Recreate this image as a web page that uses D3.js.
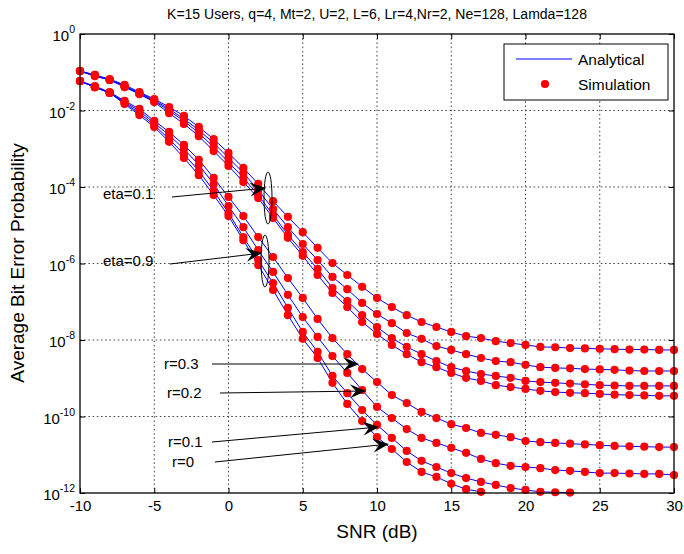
<!DOCTYPE html>
<html>
<head>
<meta charset="utf-8">
<script src="https://cdn.jsdelivr.net/npm/d3@7"></script>
<style>
  body { margin: 0; background: #fff; }
  svg { display: block; font-family: "Liberation Sans", Arial, Helvetica, sans-serif; }
</style>
</head>
<body>
<svg id="chart" width="684" height="554"></svg>
<script>
// SNR axis, one simulation point per dB
var snr = d3.range(-10, 31);

// log10(BER), SNR = -10 .. 30
// eta = 0.1 group
var eta01_r03 = [-0.97,-1.07,-1.18,-1.33,-1.52,-1.70,-1.91,-2.14,-2.43,-2.75,-3.11,-3.50,-3.92,-4.37,-4.78,-5.18,-5.59,-5.99,-6.30,-6.61,-6.90,-7.14,-7.35,-7.53,-7.66,-7.79,-7.90,-7.95,-8.03,-8.08,-8.13,-8.18,-8.19,-8.21,-8.22,-8.23,-8.24,-8.25,-8.25,-8.26,-8.26];
var eta01_r02 = [-0.97,-1.07,-1.20,-1.36,-1.54,-1.73,-1.96,-2.22,-2.51,-2.85,-3.24,-3.63,-4.08,-4.58,-5.05,-5.49,-5.91,-6.35,-6.67,-7.03,-7.32,-7.56,-7.82,-7.97,-8.16,-8.26,-8.37,-8.47,-8.55,-8.58,-8.65,-8.71,-8.73,-8.74,-8.76,-8.77,-8.78,-8.80,-8.81,-8.81,-8.81];
var eta01_r01 = [-0.97,-1.10,-1.20,-1.36,-1.57,-1.75,-2.01,-2.27,-2.59,-2.95,-3.35,-3.76,-4.21,-4.73,-5.25,-5.70,-6.14,-6.64,-6.98,-7.35,-7.66,-7.95,-8.18,-8.37,-8.55,-8.71,-8.81,-8.89,-8.94,-8.99,-9.07,-9.10,-9.12,-9.14,-9.16,-9.18,-9.19,-9.20,-9.20,-9.20,-9.20];
var eta01_r00 = [-0.97,-1.10,-1.20,-1.39,-1.57,-1.78,-2.07,-2.35,-2.67,-3.06,-3.45,-3.87,-4.29,-4.81,-5.33,-5.80,-6.30,-6.77,-7.14,-7.53,-7.84,-8.13,-8.37,-8.58,-8.71,-8.86,-8.99,-9.07,-9.18,-9.23,-9.28,-9.33,-9.36,-9.38,-9.39,-9.41,-9.43,-9.44,-9.45,-9.46,-9.46];
// eta = 0.9 group (null = below the plotted range)
var eta09_r03 = [-1.23,-1.36,-1.52,-1.75,-1.96,-2.27,-2.56,-2.90,-3.29,-3.76,-4.26,-4.76,-5.31,-5.83,-6.38,-6.90,-7.45,-7.95,-8.37,-8.76,-9.10,-9.44,-9.65,-9.88,-10.04,-10.20,-10.30,-10.43,-10.48,-10.54,-10.64,-10.67,-10.69,-10.71,-10.73,-10.75,-10.77,-10.78,-10.79,-10.80,-10.80];
var eta09_r02 = [-1.23,-1.39,-1.54,-1.78,-2.01,-2.33,-2.64,-3.01,-3.42,-3.92,-4.50,-5.05,-5.65,-6.22,-6.82,-7.40,-7.92,-8.42,-8.86,-9.31,-9.75,-10.04,-10.33,-10.56,-10.69,-10.82,-10.95,-11.11,-11.22,-11.29,-11.32,-11.35,-11.40,-11.42,-11.45,-11.48,-11.48,-11.49,-11.50,-11.50,-11.53];
var eta09_r01 = [-1.23,-1.39,-1.54,-1.80,-2.07,-2.38,-2.75,-3.14,-3.58,-4.10,-4.68,-5.31,-5.91,-6.51,-7.16,-7.79,-8.31,-8.94,-9.39,-9.83,-10.22,-10.56,-10.90,-11.16,-11.32,-11.48,-11.61,-11.71,-11.79,-11.87,-11.92,-11.97,-11.98,-11.99,-12.03,null,null,null,null,null,null];
var eta09_r00 = [-1.23,-1.39,-1.54,-1.83,-2.12,-2.43,-2.82,-3.24,-3.69,-4.21,-4.76,-5.39,-6.04,-6.69,-7.35,-7.97,-8.47,-9.12,-9.67,-10.12,-10.54,-10.85,-11.19,-11.45,-11.58,-11.76,-11.90,-11.97,-12.08,null,null,null,null,null,null,null,null,null,null,null,null];

var curves = [eta01_r03, eta01_r02, eta01_r01, eta01_r00, eta09_r03, eta09_r02, eta09_r01, eta09_r00];

var xTicks = [-10, -5, 0, 5, 10, 15, 20, 25, 30];
var yTickExp = [0, -2, -4, -6, -8, -10, -12];

var titleText = "K=15 Users, q=4, Mt=2, U=2, L=6, Lr=4,Nr=2, Ne=128, Lamda=128";
var legendLabels = ["Analytical", "Simulation"];

var svg = d3.select("#chart");
var box = { left: 80, right: 674, top: 34, bottom: 493 };

var x = d3.scaleLinear().domain([-10, 30]).range([box.left, box.right]);
var y = d3.scaleLog().domain([1e-12, 1]).range([box.bottom, box.top]);

svg.append("defs").append("clipPath").attr("id", "plotClip")
  .append("rect")
  .attr("x", box.left).attr("y", box.top)
  .attr("width", box.right - box.left).attr("height", box.bottom - box.top);

// grid
var grid = svg.append("g").attr("stroke", "#333").attr("stroke-width", 0.9).attr("stroke-dasharray", "1.6,2.6");
grid.selectAll(".gx").data(xTicks.slice(1, -1)).enter().append("line")
  .attr("x1", function (d) { return x(d); }).attr("x2", function (d) { return x(d); })
  .attr("y1", box.top).attr("y2", box.bottom);
grid.selectAll(".gy").data(yTickExp.slice(1, -1)).enter().append("line")
  .attr("y1", function (d) { return y(Math.pow(10, d)); }).attr("y2", function (d) { return y(Math.pow(10, d)); })
  .attr("x1", box.left).attr("x2", box.right);

// axes with inward ticks on all four sides
var xAxisB = d3.axisBottom(x).tickValues(xTicks).tickSizeInner(-5).tickSizeOuter(0)
  .tickFormat(function (d) { return String(d); });
var xAxisT = d3.axisTop(x).tickValues(xTicks).tickSizeInner(-5).tickSizeOuter(0).tickFormat("");
var yTickVals = yTickExp.map(function (e) { return Math.pow(10, e); });
var yAxisL = d3.axisLeft(y).tickValues(yTickVals).tickSizeInner(-5).tickSizeOuter(0).tickFormat("");
var yAxisR = d3.axisRight(y).tickValues(yTickVals).tickSizeInner(-5).tickSizeOuter(0).tickFormat("");

function styleAxis(g) {
  g.select(".domain").remove();
  g.selectAll("line").attr("stroke", "#000").attr("stroke-width", 1);
  g.selectAll("text").attr("fill", "#000").attr("font-size", 15)
    .attr("font-family", "'Liberation Sans', Arial, sans-serif");
}

svg.append("g").attr("transform", "translate(0," + box.bottom + ")").call(xAxisB).call(styleAxis)
  .selectAll("text").attr("dy", "1.0em");
svg.append("g").attr("transform", "translate(0," + box.top + ")").call(xAxisT).call(styleAxis);
svg.append("g").attr("transform", "translate(" + box.left + ",0)").call(yAxisL).call(styleAxis);
svg.append("g").attr("transform", "translate(" + box.right + ",0)").call(yAxisR).call(styleAxis);

// y tick labels 10^n
var ylab = svg.append("g").attr("font-size", 15).attr("fill", "#000");
yTickExp.forEach(function (e) {
  var t = ylab.append("text")
    .attr("x", 75).attr("y", y(Math.pow(10, e)) + 7)
    .attr("text-anchor", "end");
  t.append("tspan").text("10");
  t.append("tspan").attr("dy", -8).attr("font-size", 10.5).text(String(e));
});

// curves
var plot = svg.append("g").attr("clip-path", "url(#plotClip)");
var line = d3.line()
  .defined(function (d) { return d[1] !== null; })
  .x(function (d) { return x(d[0]); })
  .y(function (d) { return y(Math.pow(10, d[1])); });

curves.forEach(function (c) {
  var pts = snr.map(function (s, i) { return [s, c[i]]; });
  plot.append("path").datum(pts)
    .attr("d", line)
    .attr("fill", "none")
    .attr("stroke", "#0000ff")
    .attr("stroke-width", 1);
});

var dots = svg.append("g").attr("fill", "#ff0000");
curves.forEach(function (c) {
  var pts = snr.map(function (s, i) { return [s, c[i]]; })
    .filter(function (d) { return d[1] !== null && d[1] >= -12.005; });
  dots.selectAll(null).data(pts).enter().append("circle")
    .attr("cx", function (d) { return x(d[0]); })
    .attr("cy", function (d) { return y(Math.pow(10, d[1])); })
    .attr("r", 4.1);
});

// outer box
svg.append("rect")
  .attr("x", box.left).attr("y", box.top)
  .attr("width", box.right - box.left).attr("height", box.bottom - box.top)
  .attr("fill", "none").attr("stroke", "#000").attr("stroke-width", 1.3);

// title and axis labels
svg.append("text").attr("x", 377).attr("y", 19).attr("text-anchor", "middle")
  .attr("font-size", 14).text(titleText);
svg.append("text").attr("x", 377).attr("y", 538).attr("text-anchor", "middle")
  .attr("font-size", 19).text("SNR (dB)");
svg.append("text").attr("transform", "translate(24,263) rotate(-90)").attr("text-anchor", "middle")
  .attr("font-size", 19).text("Average Bit Error Probability");

// legend
var lg = svg.append("g");
lg.append("rect").attr("x", 504).attr("y", 44).attr("width", 164).attr("height", 56)
  .attr("fill", "#fff").attr("stroke", "#000").attr("stroke-width", 1);
lg.append("line").attr("x1", 516).attr("x2", 572).attr("y1", 59).attr("y2", 59)
  .attr("stroke", "#0000ff").attr("stroke-width", 1);
lg.append("circle").attr("cx", 545).attr("cy", 84).attr("r", 4.1).attr("fill", "#ff0000");
lg.selectAll("text").data(legendLabels).enter().append("text")
  .attr("x", 578).attr("y", function (d, i) { return 65 + i * 25; })
  .attr("font-size", 15.5).text(function (d) { return d; });

// annotations: labels, arrows, ellipses
var notes = [
  { text: "eta=0.1", tx: 103, ty: 199, x1: 172, y1: 197, x2: 266, y2: 188 },
  { text: "eta=0.9", tx: 103, ty: 266, x1: 170, y1: 264, x2: 262, y2: 253 },
  { text: "r=0.3", tx: 164, ty: 369, x1: 212, y1: 364, x2: 359, y2: 364 },
  { text: "r=0.2", tx: 167, ty: 398, x1: 220, y1: 393, x2: 366, y2: 391 },
  { text: "r=0.1", tx: 168, ty: 447, x1: 212, y1: 442, x2: 379, y2: 427 },
  { text: "r=0", tx: 172, ty: 467, x1: 215, y1: 462, x2: 389, y2: 444 }
];
var ann = svg.append("g");
notes.forEach(function (n) {
  var a = Math.atan2(n.y2 - n.y1, n.x2 - n.x1);
  ann.append("text").attr("x", n.tx).attr("y", n.ty).attr("font-size", 15).text(n.text);
  ann.append("line").attr("x1", n.x1).attr("y1", n.y1)
    .attr("x2", n.x2 - 7 * Math.cos(a)).attr("y2", n.y2 - 7 * Math.sin(a))
    .attr("stroke", "#000").attr("stroke-width", 1);
  ann.append("path")
    .attr("d", "M0,0 L-16,-7 L-10,0 L-16,7 Z")
    .attr("transform", "translate(" + n.x2 + "," + n.y2 + ") rotate(" + (a * 180 / Math.PI) + ")")
    .attr("fill", "#000");
});
[[268, 198], [265, 261]].forEach(function (c) {
  ann.append("ellipse").attr("cx", c[0]).attr("cy", c[1]).attr("rx", 4).attr("ry", 26)
    .attr("fill", "none").attr("stroke", "#000").attr("stroke-width", 1);
});
</script>
</body>
</html>
